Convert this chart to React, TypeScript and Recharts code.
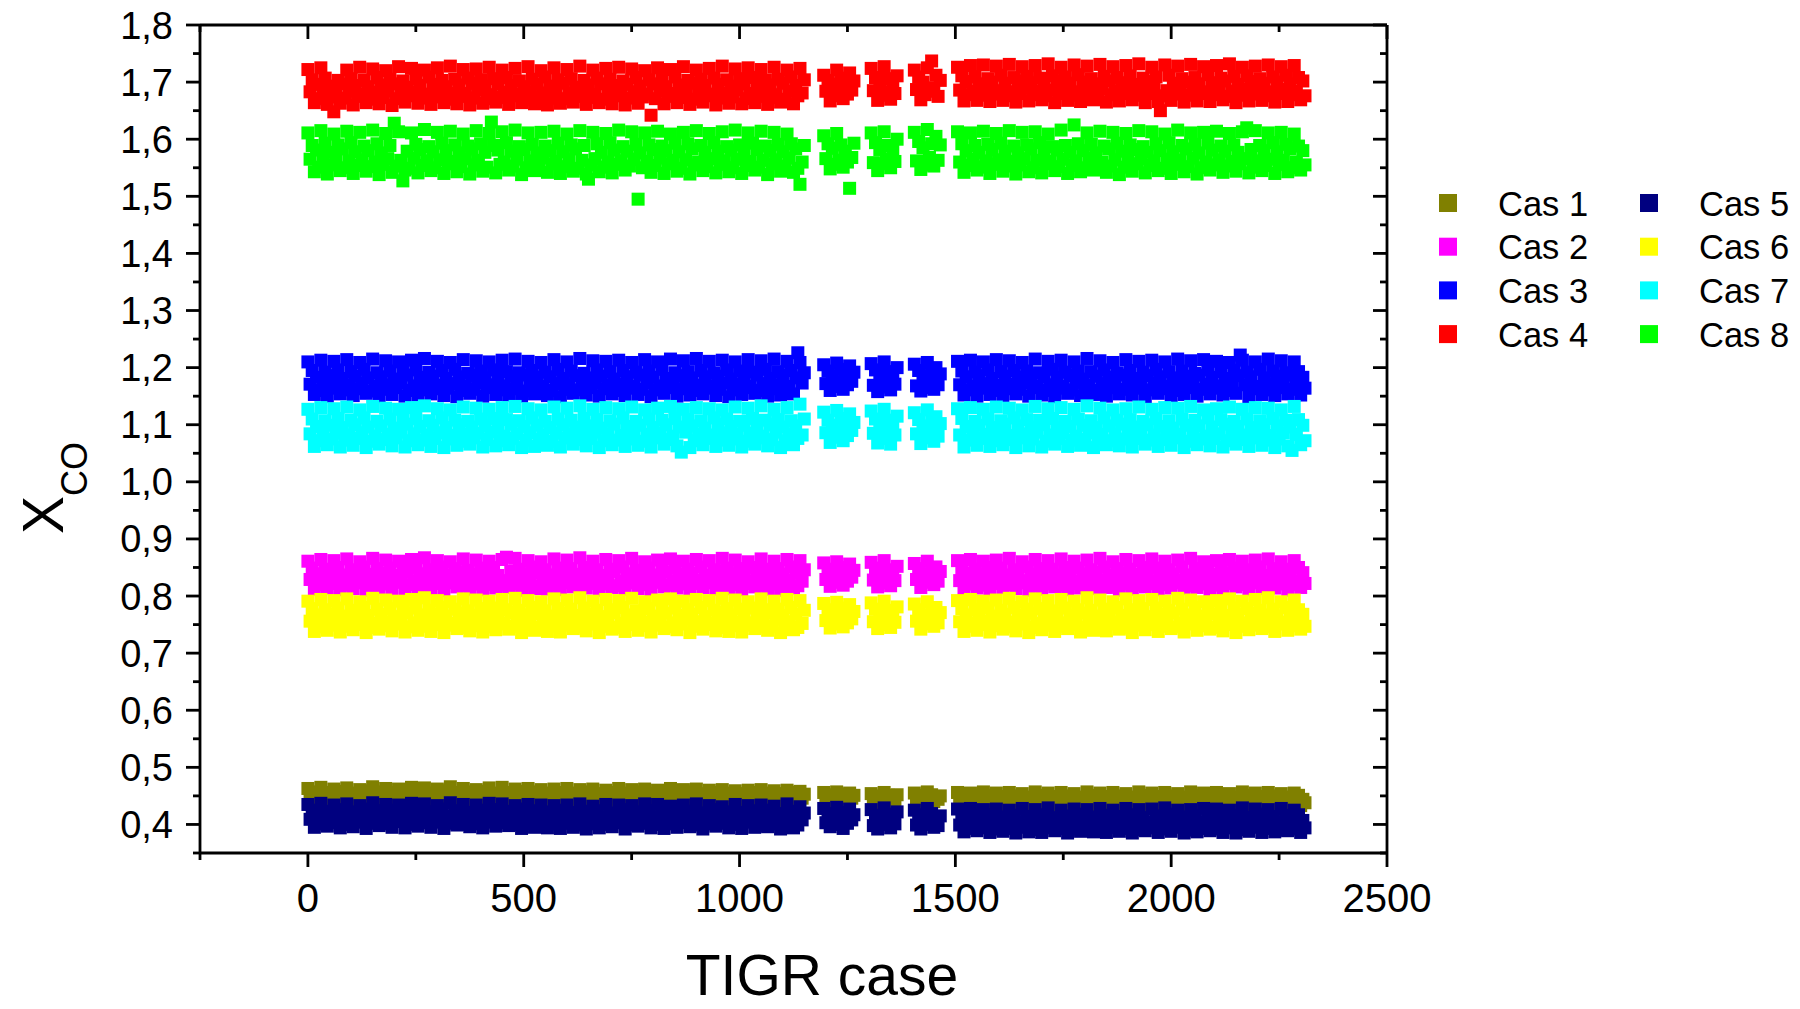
import React from "react";
import { ScatterChart, Scatter, XAxis, YAxis, Legend } from "recharts";

const FONT = "'Liberation Sans', Arial, sans-serif";

// TIGR case indices sampled along the x axis (gaps near 1175, 1285, 1385, 1485)
const cases = [
  0, 5, 10, 15, 20, 25, 30, 35, 40, 45,
  50, 55, 60, 65, 70, 75, 80, 85, 90, 95,
  100, 105, 110, 115, 120, 125, 130, 135, 140, 145,
  150, 155, 160, 165, 170, 175, 180, 185, 190, 195,
  200, 205, 210, 215, 220, 225, 230, 235, 240, 245,
  250, 255, 260, 265, 270, 275, 280, 285, 290, 295,
  300, 305, 310, 315, 320, 325, 330, 335, 340, 345,
  350, 355, 360, 365, 370, 375, 380, 385, 390, 395,
  400, 405, 410, 415, 420, 425, 430, 435, 440, 445,
  450, 455, 460, 465, 470, 475, 480, 485, 490, 495,
  500, 505, 510, 515, 520, 525, 530, 535, 540, 545,
  550, 555, 560, 565, 570, 575, 580, 585, 590, 595,
  600, 605, 610, 615, 620, 625, 630, 635, 640, 645,
  650, 655, 660, 665, 670, 675, 680, 685, 690, 695,
  700, 705, 710, 715, 720, 725, 730, 735, 740, 745,
  750, 755, 760, 765, 770, 775, 780, 785, 790, 795,
  800, 805, 810, 815, 820, 825, 830, 835, 840, 845,
  850, 855, 860, 865, 870, 875, 880, 885, 890, 895,
  900, 905, 910, 915, 920, 925, 930, 935, 940, 945,
  950, 955, 960, 965, 970, 975, 980, 985, 990, 995,
  1000, 1005, 1010, 1015, 1020, 1025, 1030, 1035, 1040, 1045,
  1050, 1055, 1060, 1065, 1070, 1075, 1080, 1085, 1090, 1095,
  1100, 1105, 1110, 1115, 1120, 1125, 1130, 1135, 1140, 1145,
  1150, 1195, 1200, 1205, 1210, 1215, 1220, 1225, 1230, 1235,
  1240, 1245, 1250, 1255, 1260, 1265, 1305, 1310, 1315, 1320,
  1325, 1330, 1335, 1340, 1345, 1350, 1355, 1360, 1365, 1405,
  1410, 1415, 1420, 1425, 1430, 1435, 1440, 1445, 1450, 1455,
  1460, 1465, 1505, 1510, 1515, 1520, 1525, 1530, 1535, 1540,
  1545, 1550, 1555, 1560, 1565, 1570, 1575, 1580, 1585, 1590,
  1595, 1600, 1605, 1610, 1615, 1620, 1625, 1630, 1635, 1640,
  1645, 1650, 1655, 1660, 1665, 1670, 1675, 1680, 1685, 1690,
  1695, 1700, 1705, 1710, 1715, 1720, 1725, 1730, 1735, 1740,
  1745, 1750, 1755, 1760, 1765, 1770, 1775, 1780, 1785, 1790,
  1795, 1800, 1805, 1810, 1815, 1820, 1825, 1830, 1835, 1840,
  1845, 1850, 1855, 1860, 1865, 1870, 1875, 1880, 1885, 1890,
  1895, 1900, 1905, 1910, 1915, 1920, 1925, 1930, 1935, 1940,
  1945, 1950, 1955, 1960, 1965, 1970, 1975, 1980, 1985, 1990,
  1995, 2000, 2005, 2010, 2015, 2020, 2025, 2030, 2035, 2040,
  2045, 2050, 2055, 2060, 2065, 2070, 2075, 2080, 2085, 2090,
  2095, 2100, 2105, 2110, 2115, 2120, 2125, 2130, 2135, 2140,
  2145, 2150, 2155, 2160, 2165, 2170, 2175, 2180, 2185, 2190,
  2195, 2200, 2205, 2210, 2215, 2220, 2225, 2230, 2235, 2240,
  2245, 2250, 2255, 2260, 2265, 2270, 2275, 2280, 2285, 2290,
  2295, 2300, 2305, 2310,
];

const cas1 = [
  .463, .448, .457, .441, .452, .443, .465, .446, .456, .440,
  .454, .445, .462, .449, .458, .439, .451, .444, .464, .447,
  .455, .442, .453, .446, .461, .450, .459, .440, .452, .443,
  .466, .447, .457, .441, .454, .444, .463, .448, .456, .439,
  .451, .445, .462, .450, .458, .440, .453, .443, .465, .446,
  .457, .441, .452, .444, .464, .448, .455, .439, .454, .445,
  .462, .449, .459, .440, .451, .443, .466, .447, .456, .442,
  .453, .444, .463, .448, .457, .441, .452, .445, .461, .450,
  .458, .439, .454, .443, .464, .446, .455, .440, .451, .444,
  .465, .447, .456, .442, .453, .445, .462, .449, .458, .439,
  .452, .443, .463, .448, .457, .440, .454, .444, .461, .446,
  .455, .441, .451, .443, .462, .447, .456, .439, .452, .444,
  .463, .446, .455, .440, .450, .442, .461, .448, .457, .438,
  .451, .443, .462, .447, .454, .439, .452, .444, .460, .446,
  .456, .440, .450, .442, .463, .445, .455, .438, .451, .443,
  .461, .447, .457, .439, .452, .444, .462, .446, .454, .440,
  .450, .442, .460, .448, .456, .438, .451, .443, .463, .445,
  .455, .439, .452, .444, .461, .446, .457, .440, .450, .442,
  .462, .447, .454, .438, .451, .443, .460, .445, .456, .439,
  .452, .444, .461, .446, .455, .440, .450, .442, .459, .447,
  .454, .438, .451, .443, .460, .445, .456, .439, .452, .441,
  .461, .446, .455, .440, .450, .442, .459, .447, .454, .438,
  .451, .443, .460, .445, .456, .439, .452, .441, .458, .446,
  .453, .456, .444, .452, .439, .449, .442, .457, .445, .453,
  .440, .450, .443, .455, .446, .451, .454, .441, .450, .437,
  .447, .440, .456, .444, .451, .438, .448, .442, .452, .455,
  .443, .451, .438, .448, .441, .457, .445, .452, .440, .449,
  .444, .450, .456, .440, .449, .433, .445, .437, .455, .441,
  .450, .434, .446, .438, .457, .442, .451, .433, .444, .436,
  .455, .440, .449, .432, .445, .437, .456, .439, .450, .434,
  .443, .435, .454, .441, .448, .433, .446, .436, .457, .440,
  .451, .432, .444, .438, .455, .439, .449, .434, .445, .437,
  .456, .441, .450, .433, .443, .436, .454, .440, .448, .432,
  .446, .437, .457, .439, .451, .434, .444, .435, .455, .441,
  .449, .433, .445, .438, .456, .440, .450, .432, .443, .436,
  .454, .439, .448, .434, .446, .437, .457, .441, .451, .433,
  .444, .435, .455, .440, .449, .432, .445, .438, .456, .439,
  .450, .434, .443, .436, .454, .441, .448, .433, .446, .437,
  .457, .440, .451, .432, .444, .435, .455, .439, .449, .434,
  .445, .438, .456, .441, .450, .433, .443, .436, .454, .440,
  .448, .432, .446, .437, .457, .439, .451, .434, .444, .435,
  .455, .441, .449, .433, .445, .438, .456, .440, .450, .432,
  .443, .436, .454, .439, .448, .434, .446, .437, .455, .441,
  .451, .433, .444, .438,
];

const cas2 = [
  .861, .829, .849, .812, .839, .820, .864, .827, .847, .814,
  .841, .822, .862, .830, .850, .811, .837, .819, .865, .828,
  .846, .813, .842, .823, .860, .831, .851, .810, .838, .818,
  .866, .826, .848, .815, .840, .821, .863, .829, .849, .812,
  .836, .824, .861, .832, .847, .811, .843, .820, .864, .827,
  .850, .814, .839, .819, .867, .828, .846, .813, .841, .822,
  .862, .831, .851, .810, .837, .823, .860, .826, .848, .816,
  .842, .818, .865, .829, .845, .812, .838, .821, .863, .830,
  .849, .811, .840, .820, .861, .832, .850, .814, .836, .819,
  .864, .827, .868, .815, .843, .822, .866, .828, .847, .810,
  .839, .821, .862, .831, .851, .813, .841, .818, .860, .826,
  .846, .812, .837, .820, .865, .829, .849, .811, .842, .823,
  .863, .830, .848, .816, .838, .819, .867, .827, .850, .814,
  .840, .822, .861, .832, .846, .810, .836, .821, .864, .828,
  .847, .815, .843, .818, .862, .826, .851, .812, .839, .823,
  .866, .831, .845, .813, .841, .820, .860, .829, .849, .811,
  .837, .824, .863, .830, .848, .816, .842, .819, .865, .827,
  .850, .814, .838, .821, .861, .832, .847, .810, .840, .822,
  .864, .828, .851, .815, .836, .823, .862, .826, .846, .812,
  .843, .818, .866, .831, .849, .813, .839, .820, .863, .829,
  .848, .811, .841, .822, .860, .827, .850, .816, .837, .819,
  .865, .830, .847, .812, .842, .821, .861, .832, .848, .810,
  .838, .823, .864, .828, .851, .814, .840, .818, .862, .826,
  .846, .858, .829, .847, .817, .841, .824, .860, .831, .850,
  .819, .843, .826, .856, .833, .845, .859, .828, .849, .816,
  .840, .823, .862, .830, .846, .818, .842, .827, .852, .857,
  .829, .848, .815, .839, .824, .861, .831, .845, .820, .851,
  .826, .843, .862, .827, .848, .812, .840, .821, .864, .829,
  .847, .814, .839, .819, .861, .830, .850, .811, .842, .822,
  .863, .828, .849, .815, .837, .820, .866, .831, .846, .813,
  .841, .823, .860, .827, .851, .810, .838, .818, .864, .832,
  .848, .812, .843, .821, .862, .829, .847, .816, .836, .819,
  .865, .830, .850, .811, .840, .822, .861, .826, .849, .814,
  .839, .820, .863, .831, .846, .813, .842, .823, .866, .828,
  .851, .815, .837, .818, .860, .827, .848, .810, .841, .821,
  .864, .832, .847, .812, .838, .819, .862, .829, .850, .816,
  .843, .822, .865, .826, .849, .811, .840, .820, .861, .830,
  .846, .814, .839, .823, .863, .828, .851, .813, .837, .818,
  .866, .831, .848, .815, .842, .821, .860, .827, .847, .810,
  .838, .819, .862, .832, .850, .812, .841, .822, .864, .829,
  .849, .816, .840, .820, .861, .826, .846, .811, .843, .823,
  .863, .830, .851, .813, .836, .818, .865, .828, .848, .814,
  .842, .821, .860, .831, .847, .810, .839, .820, .862, .827,
  .850, .815, .841, .822,
];

const cas3 = [
  1.210, 1.171, 1.195, 1.153, 1.183, 1.160, 1.213, 1.168, 1.192, 1.150,
  1.186, 1.164, 1.211, 1.172, 1.196, 1.154, 1.181, 1.161, 1.214, 1.169,
  1.193, 1.151, 1.185, 1.163, 1.209, 1.173, 1.197, 1.155, 1.182, 1.159,
  1.215, 1.167, 1.191, 1.149, 1.184, 1.162, 1.212, 1.170, 1.194, 1.153,
  1.180, 1.165, 1.210, 1.174, 1.193, 1.150, 1.187, 1.160, 1.213, 1.168,
  1.196, 1.152, 1.183, 1.161, 1.216, 1.171, 1.192, 1.154, 1.185, 1.163,
  1.211, 1.169, 1.195, 1.151, 1.181, 1.164, 1.209, 1.172, 1.197, 1.149,
  1.184, 1.160, 1.214, 1.167, 1.190, 1.155, 1.186, 1.162, 1.212, 1.173,
  1.194, 1.150, 1.182, 1.165, 1.210, 1.170, 1.196, 1.153, 1.180, 1.161,
  1.213, 1.168, 1.193, 1.152, 1.185, 1.163, 1.215, 1.171, 1.191, 1.150,
  1.187, 1.159, 1.211, 1.174, 1.195, 1.154, 1.183, 1.164, 1.209, 1.167,
  1.192, 1.151, 1.184, 1.160, 1.214, 1.172, 1.197, 1.149, 1.181, 1.162,
  1.210, 1.170, 1.194, 1.155, 1.186, 1.161, 1.216, 1.168, 1.190, 1.152,
  1.182, 1.165, 1.212, 1.173, 1.196, 1.150, 1.185, 1.163, 1.211, 1.169,
  1.193, 1.154, 1.180, 1.160, 1.213, 1.171, 1.195, 1.151, 1.184, 1.164,
  1.209, 1.167, 1.192, 1.153, 1.187, 1.162, 1.214, 1.174, 1.194, 1.149,
  1.183, 1.161, 1.210, 1.168, 1.197, 1.155, 1.181, 1.165, 1.215, 1.170,
  1.191, 1.150, 1.186, 1.163, 1.212, 1.172, 1.193, 1.152, 1.182, 1.160,
  1.216, 1.169, 1.195, 1.154, 1.184, 1.164, 1.211, 1.167, 1.190, 1.151,
  1.185, 1.162, 1.213, 1.173, 1.196, 1.149, 1.180, 1.161, 1.210, 1.171,
  1.194, 1.153, 1.183, 1.165, 1.214, 1.168, 1.192, 1.155, 1.187, 1.160,
  1.212, 1.172, 1.197, 1.150, 1.181, 1.163, 1.215, 1.170, 1.193, 1.152,
  1.186, 1.164, 1.211, 1.167, 1.195, 1.154, 1.182, 1.226, 1.209, 1.173,
  1.191, 1.205, 1.172, 1.194, 1.160, 1.186, 1.167, 1.208, 1.175, 1.197,
  1.162, 1.188, 1.170, 1.203, 1.176, 1.192, 1.207, 1.169, 1.196, 1.158,
  1.185, 1.166, 1.210, 1.174, 1.193, 1.161, 1.187, 1.171, 1.200, 1.206,
  1.168, 1.195, 1.159, 1.186, 1.165, 1.209, 1.175, 1.192, 1.162, 1.200,
  1.170, 1.189, 1.211, 1.170, 1.194, 1.152, 1.184, 1.161, 1.213, 1.168,
  1.192, 1.150, 1.186, 1.164, 1.210, 1.172, 1.196, 1.153, 1.181, 1.160,
  1.214, 1.169, 1.193, 1.151, 1.185, 1.163, 1.212, 1.171, 1.195, 1.154,
  1.183, 1.162, 1.209, 1.173, 1.194, 1.150, 1.187, 1.165, 1.215, 1.168,
  1.191, 1.152, 1.184, 1.160, 1.211, 1.170, 1.197, 1.149, 1.182, 1.164,
  1.213, 1.167, 1.192, 1.155, 1.186, 1.161, 1.210, 1.174, 1.194, 1.151,
  1.180, 1.163, 1.216, 1.169, 1.193, 1.153, 1.185, 1.160, 1.212, 1.172,
  1.196, 1.150, 1.183, 1.165, 1.209, 1.171, 1.191, 1.154, 1.187, 1.162,
  1.214, 1.168, 1.195, 1.152, 1.181, 1.164, 1.211, 1.170, 1.192, 1.149,
  1.186, 1.161, 1.213, 1.173, 1.197, 1.155, 1.184, 1.163, 1.210, 1.167,
  1.193, 1.151, 1.182, 1.160, 1.215, 1.172, 1.194, 1.153, 1.185, 1.165,
  1.212, 1.169, 1.190, 1.150, 1.187, 1.162, 1.214, 1.171, 1.196, 1.154,
  1.183, 1.164, 1.211, 1.168, 1.193, 1.152, 1.181, 1.160, 1.209, 1.173,
  1.195, 1.155, 1.186, 1.222, 1.213, 1.170, 1.192, 1.149, 1.184, 1.163,
  1.210, 1.167, 1.197, 1.153, 1.182, 1.161, 1.215, 1.172, 1.194, 1.151,
  1.185, 1.165, 1.212, 1.169, 1.191, 1.154, 1.187, 1.162, 1.210, 1.171,
  1.193, 1.152, 1.183, 1.164,
];

const cas4 = [
  1.722, 1.683, 1.704, 1.664, 1.696, 1.671, 1.725, 1.680, 1.707, 1.661,
  1.693, 1.674, 1.648, 1.682, 1.703, 1.663, 1.697, 1.672, 1.721, 1.684,
  1.706, 1.660, 1.694, 1.675, 1.726, 1.679, 1.703, 1.664, 1.692, 1.670,
  1.723, 1.682, 1.708, 1.662, 1.695, 1.673, 1.720, 1.685, 1.705, 1.659,
  1.697, 1.671, 1.727, 1.680, 1.702, 1.665, 1.691, 1.676, 1.724, 1.683,
  1.706, 1.663, 1.694, 1.672, 1.721, 1.679, 1.709, 1.661, 1.696, 1.674,
  1.725, 1.684, 1.703, 1.664, 1.692, 1.670, 1.728, 1.681, 1.705, 1.662,
  1.695, 1.675, 1.722, 1.680, 1.707, 1.660, 1.698, 1.672, 1.723, 1.686,
  1.704, 1.663, 1.693, 1.671, 1.726, 1.678, 1.706, 1.665, 1.697, 1.673,
  1.721, 1.682, 1.708, 1.661, 1.694, 1.676, 1.724, 1.679, 1.702, 1.664,
  1.692, 1.670, 1.727, 1.683, 1.705, 1.662, 1.696, 1.674, 1.720, 1.681,
  1.709, 1.660, 1.693, 1.672, 1.725, 1.685, 1.704, 1.663, 1.698, 1.671,
  1.722, 1.680, 1.706, 1.665, 1.691, 1.675, 1.728, 1.682, 1.703, 1.661,
  1.695, 1.673, 1.721, 1.678, 1.707, 1.664, 1.697, 1.670, 1.724, 1.684,
  1.705, 1.662, 1.694, 1.676, 1.726, 1.681, 1.702, 1.660, 1.696, 1.672,
  1.723, 1.683, 1.708, 1.663, 1.693, 1.674, 1.720, 1.679, 1.704, 1.642,
  1.697, 1.671, 1.725, 1.685, 1.706, 1.662, 1.692, 1.675, 1.722, 1.680,
  1.709, 1.664, 1.695, 1.673, 1.727, 1.682, 1.703, 1.661, 1.698, 1.670,
  1.721, 1.684, 1.705, 1.665, 1.694, 1.676, 1.724, 1.679, 1.707, 1.660,
  1.696, 1.672, 1.728, 1.681, 1.704, 1.663, 1.693, 1.674, 1.723, 1.686,
  1.706, 1.662, 1.697, 1.671, 1.725, 1.680, 1.708, 1.664, 1.692, 1.675,
  1.722, 1.683, 1.703, 1.661, 1.695, 1.673, 1.726, 1.678, 1.705, 1.665,
  1.698, 1.670, 1.721, 1.684, 1.709, 1.662, 1.694, 1.676, 1.724, 1.681,
  1.704, 1.712, 1.684, 1.703, 1.667, 1.697, 1.676, 1.721, 1.688, 1.707,
  1.671, 1.699, 1.679, 1.716, 1.686, 1.702, 1.724, 1.685, 1.708, 1.668,
  1.698, 1.677, 1.727, 1.683, 1.706, 1.670, 1.695, 1.680, 1.711, 1.721,
  1.687, 1.709, 1.669, 1.700, 1.678, 1.725, 1.690, 1.737, 1.684, 1.712,
  1.675, 1.703, 1.726, 1.686, 1.711, 1.667, 1.701, 1.678, 1.729, 1.684,
  1.709, 1.668, 1.697, 1.677, 1.730, 1.688, 1.706, 1.666, 1.700, 1.679,
  1.728, 1.685, 1.712, 1.668, 1.698, 1.676, 1.731, 1.683, 1.708, 1.665,
  1.702, 1.680, 1.727, 1.689, 1.710, 1.667, 1.699, 1.678, 1.729, 1.684,
  1.707, 1.669, 1.696, 1.676, 1.732, 1.686, 1.711, 1.664, 1.701, 1.680,
  1.726, 1.687, 1.709, 1.668, 1.698, 1.677, 1.730, 1.683, 1.713, 1.666,
  1.700, 1.679, 1.728, 1.685, 1.706, 1.669, 1.697, 1.675, 1.731, 1.688,
  1.710, 1.665, 1.702, 1.678, 1.727, 1.684, 1.708, 1.667, 1.699, 1.680,
  1.729, 1.686, 1.711, 1.669, 1.696, 1.677, 1.732, 1.683, 1.707, 1.664,
  1.701, 1.680, 1.726, 1.688, 1.709, 1.666, 1.650, 1.676, 1.730, 1.685,
  1.712, 1.668, 1.698, 1.679, 1.728, 1.684, 1.706, 1.665, 1.700, 1.677,
  1.731, 1.687, 1.708, 1.667, 1.697, 1.680, 1.727, 1.683, 1.713, 1.666,
  1.699, 1.678, 1.729, 1.686, 1.707, 1.669, 1.702, 1.675, 1.732, 1.684,
  1.710, 1.664, 1.696, 1.677, 1.726, 1.688, 1.711, 1.667, 1.701, 1.679,
  1.728, 1.685, 1.706, 1.668, 1.698, 1.676, 1.730, 1.683, 1.709, 1.665,
  1.700, 1.680, 1.727, 1.687, 1.712, 1.666, 1.697, 1.678, 1.729, 1.684,
  1.708, 1.669, 1.702, 1.676,
];

const cas5 = [
  .435, .409, .425, .395, .416, .401, .437, .407, .423, .397,
  .418, .403, .434, .410, .426, .394, .415, .400, .436, .408,
  .422, .396, .419, .404, .433, .411, .427, .393, .417, .402,
  .438, .406, .424, .398, .416, .401, .435, .409, .425, .395,
  .414, .405, .434, .412, .423, .394, .420, .400, .437, .407,
  .426, .397, .417, .403, .436, .408, .422, .395, .418, .404,
  .433, .410, .427, .393, .415, .402, .438, .406, .424, .399,
  .419, .400, .435, .409, .421, .396, .416, .401, .434, .411,
  .425, .394, .418, .404, .437, .407, .426, .397, .414, .403,
  .436, .408, .423, .398, .420, .400, .433, .410, .427, .393,
  .417, .402, .435, .409, .424, .395, .419, .405, .434, .406,
  .422, .394, .415, .401, .433, .407, .425, .393, .417, .402,
  .434, .408, .421, .395, .414, .399, .436, .405, .423, .392,
  .416, .401, .432, .410, .424, .394, .413, .400, .435, .406,
  .420, .396, .418, .403, .434, .409, .426, .392, .415, .399,
  .433, .407, .422, .397, .417, .402, .436, .404, .424, .394,
  .413, .400, .435, .408, .421, .393, .418, .401, .432, .410,
  .425, .395, .414, .403, .434, .406, .423, .396, .416, .399,
  .436, .409, .420, .392, .415, .401, .433, .407, .426, .397,
  .417, .402, .431, .408, .422, .394, .414, .400, .435, .405,
  .421, .393, .416, .404, .433, .409, .424, .395, .418, .398,
  .434, .406, .425, .396, .413, .401, .432, .410, .419, .392,
  .415, .403, .436, .407, .423, .394, .417, .399, .431, .408,
  .420, .428, .403, .419, .396, .414, .400, .430, .406, .421,
  .393, .412, .402, .427, .408, .417, .426, .398, .416, .392,
  .411, .400, .429, .404, .418, .394, .410, .401, .422, .425,
  .399, .417, .392, .409, .400, .428, .405, .419, .395, .413,
  .398, .415, .427, .399, .414, .387, .408, .393, .428, .400,
  .415, .389, .409, .394, .426, .401, .417, .386, .406, .392,
  .427, .398, .413, .388, .408, .393, .425, .400, .416, .385,
  .405, .395, .428, .402, .414, .387, .410, .391, .426, .399,
  .417, .386, .407, .394, .429, .397, .412, .389, .404, .393,
  .425, .401, .415, .385, .408, .392, .427, .398, .418, .388,
  .406, .394, .426, .400, .413, .387, .409, .390, .428, .402,
  .416, .386, .405, .395, .425, .399, .414, .388, .407, .393,
  .428, .397, .417, .385, .410, .391, .426, .401, .412, .389,
  .404, .394, .427, .398, .415, .386, .408, .392, .429, .400,
  .418, .388, .406, .395, .425, .402, .413, .385, .409, .390,
  .426, .399, .416, .387, .405, .393, .428, .397, .414, .389,
  .407, .392, .427, .401, .417, .386, .410, .394, .425, .398,
  .415, .385, .408, .391, .429, .400, .412, .388, .406, .395,
  .427, .398, .418, .386, .409, .393, .426, .402, .414, .387,
  .405, .390, .428, .399, .416, .389, .411, .392, .425, .401,
  .417, .386, .407, .394,
];

const cas6 = [
  .791, .756, .778, .738, .767, .746, .794, .753, .776, .740,
  .769, .749, .792, .757, .779, .737, .765, .747, .795, .754,
  .775, .741, .770, .750, .790, .758, .780, .736, .766, .745,
  .796, .752, .777, .742, .768, .748, .793, .755, .778, .739,
  .764, .751, .791, .759, .776, .737, .771, .746, .794, .753,
  .779, .740, .767, .747, .797, .756, .775, .738, .769, .750,
  .792, .758, .780, .736, .765, .749, .790, .752, .777, .743,
  .770, .745, .795, .755, .774, .739, .766, .748, .793, .757,
  .778, .737, .768, .746, .791, .759, .779, .741, .764, .751,
  .794, .753, .776, .742, .771, .747, .796, .754, .775, .736,
  .767, .750, .792, .758, .780, .740, .769, .745, .790, .752,
  .774, .738, .765, .748, .795, .756, .778, .737, .770, .749,
  .793, .757, .777, .743, .766, .746, .797, .753, .779, .739,
  .768, .751, .791, .759, .775, .736, .764, .747, .794, .755,
  .776, .742, .771, .745, .792, .752, .780, .738, .767, .750,
  .796, .758, .774, .740, .769, .748, .790, .754, .778, .737,
  .765, .749, .793, .756, .777, .743, .770, .746, .795, .753,
  .779, .741, .766, .751, .791, .759, .776, .736, .768, .747,
  .794, .755, .780, .742, .764, .750, .792, .752, .775, .739,
  .771, .745, .796, .758, .778, .738, .767, .748, .793, .754,
  .777, .737, .769, .749, .790, .753, .779, .743, .765, .746,
  .795, .757, .776, .740, .770, .747, .791, .759, .777, .736,
  .766, .750, .794, .755, .780, .741, .768, .745, .792, .752,
  .775, .787, .757, .776, .744, .769, .751, .789, .759, .779,
  .746, .771, .753, .785, .760, .773, .788, .755, .777, .743,
  .768, .750, .791, .758, .775, .745, .770, .754, .781, .786,
  .756, .776, .742, .767, .751, .790, .759, .773, .747, .780,
  .753, .771, .792, .755, .778, .738, .767, .747, .794, .753,
  .776, .740, .769, .750, .791, .756, .779, .737, .765, .748,
  .793, .758, .775, .742, .768, .746, .796, .754, .780, .739,
  .766, .751, .790, .757, .777, .736, .770, .745, .795, .752,
  .778, .741, .764, .749, .792, .759, .774, .738, .769, .747,
  .794, .753, .779, .743, .767, .750, .791, .756, .776, .737,
  .770, .746, .797, .755, .775, .740, .765, .748, .793, .758,
  .777, .739, .768, .751, .790, .754, .780, .742, .766, .745,
  .795, .757, .776, .736, .771, .749, .792, .752, .778, .741,
  .764, .750, .794, .758, .779, .738, .768, .747, .791, .755,
  .775, .743, .770, .746, .796, .753, .777, .737, .767, .751,
  .793, .759, .780, .740, .765, .748, .790, .754, .776, .742,
  .769, .745, .792, .756, .774, .739, .766, .750, .795, .757,
  .779, .736, .768, .747, .791, .753, .778, .741, .770, .749,
  .794, .755, .775, .743, .767, .746, .797, .758, .777, .738,
  .765, .751, .790, .754, .780, .740, .769, .748, .793, .756,
  .776, .742, .768, .747,
];

const cas7 = [
  1.127, 1.084, 1.110, 1.062, 1.097, 1.072, 1.130, 1.081, 1.107, 1.065,
  1.099, 1.075, 1.128, 1.085, 1.111, 1.061, 1.095, 1.073, 1.131, 1.082,
  1.108, 1.064, 1.100, 1.076, 1.126, 1.086, 1.112, 1.060, 1.096, 1.071,
  1.132, 1.080, 1.106, 1.066, 1.098, 1.074, 1.129, 1.083, 1.110, 1.063,
  1.094, 1.077, 1.127, 1.087, 1.109, 1.061, 1.101, 1.072, 1.130, 1.084,
  1.111, 1.065, 1.097, 1.073, 1.133, 1.082, 1.107, 1.062, 1.099, 1.076,
  1.128, 1.086, 1.112, 1.060, 1.095, 1.075, 1.126, 1.081, 1.108, 1.064,
  1.100, 1.071, 1.131, 1.083, 1.106, 1.066, 1.096, 1.077, 1.129, 1.085,
  1.110, 1.061, 1.098, 1.074, 1.127, 1.087, 1.111, 1.063, 1.094, 1.072,
  1.130, 1.080, 1.109, 1.065, 1.101, 1.076, 1.132, 1.084, 1.107, 1.060,
  1.097, 1.073, 1.128, 1.086, 1.112, 1.062, 1.099, 1.075, 1.126, 1.082,
  1.106, 1.064, 1.095, 1.071, 1.131, 1.085, 1.110, 1.061, 1.100, 1.077,
  1.129, 1.083, 1.108, 1.066, 1.096, 1.074, 1.133, 1.080, 1.111, 1.063,
  1.098, 1.076, 1.127, 1.087, 1.109, 1.060, 1.094, 1.072, 1.130, 1.084,
  1.107, 1.065, 1.101, 1.073, 1.128, 1.081, 1.112, 1.062, 1.097, 1.075,
  1.131, 1.086, 1.106, 1.064, 1.099, 1.071, 1.126, 1.083, 1.110, 1.061,
  1.095, 1.077, 1.129, 1.085, 1.108, 1.066, 1.100, 1.074, 1.132, 1.080,
  1.111, 1.063, 1.096, 1.052, 1.127, 1.087, 1.109, 1.060, 1.098, 1.072,
  1.130, 1.084, 1.107, 1.065, 1.094, 1.076, 1.128, 1.082, 1.112, 1.062,
  1.101, 1.073, 1.126, 1.086, 1.110, 1.064, 1.097, 1.075, 1.131, 1.083,
  1.106, 1.061, 1.099, 1.071, 1.129, 1.085, 1.111, 1.066, 1.095, 1.077,
  1.133, 1.080, 1.108, 1.063, 1.100, 1.074, 1.127, 1.087, 1.109, 1.060,
  1.096, 1.072, 1.130, 1.084, 1.107, 1.065, 1.098, 1.076, 1.136, 1.082,
  1.110, 1.122, 1.086, 1.108, 1.069, 1.099, 1.078, 1.125, 1.088, 1.111,
  1.072, 1.101, 1.081, 1.119, 1.090, 1.104, 1.124, 1.085, 1.110, 1.068,
  1.097, 1.076, 1.127, 1.087, 1.108, 1.066, 1.100, 1.082, 1.115, 1.121,
  1.084, 1.109, 1.067, 1.098, 1.077, 1.126, 1.089, 1.106, 1.071, 1.114,
  1.080, 1.102, 1.128, 1.082, 1.111, 1.061, 1.097, 1.073, 1.130, 1.085,
  1.106, 1.064, 1.099, 1.076, 1.127, 1.083, 1.110, 1.062, 1.095, 1.072,
  1.131, 1.086, 1.107, 1.065, 1.101, 1.074, 1.129, 1.081, 1.112, 1.060,
  1.098, 1.077, 1.126, 1.084, 1.109, 1.063, 1.096, 1.075, 1.132, 1.087,
  1.108, 1.061, 1.100, 1.071, 1.128, 1.082, 1.111, 1.066, 1.094, 1.076,
  1.130, 1.085, 1.106, 1.062, 1.097, 1.073, 1.127, 1.080, 1.110, 1.064,
  1.099, 1.074, 1.133, 1.086, 1.107, 1.060, 1.095, 1.077, 1.129, 1.083,
  1.112, 1.065, 1.098, 1.072, 1.126, 1.084, 1.108, 1.063, 1.101, 1.075,
  1.128, 1.081, 1.109, 1.061, 1.096, 1.076, 1.131, 1.087, 1.106, 1.066,
  1.100, 1.073, 1.127, 1.082, 1.111, 1.062, 1.097, 1.074, 1.130, 1.085,
  1.107, 1.064, 1.094, 1.077, 1.129, 1.083, 1.110, 1.060, 1.099, 1.071,
  1.132, 1.086, 1.108, 1.065, 1.098, 1.075, 1.126, 1.080, 1.112, 1.063,
  1.096, 1.076, 1.128, 1.084, 1.109, 1.061, 1.101, 1.072, 1.131, 1.087,
  1.106, 1.066, 1.097, 1.074, 1.127, 1.082, 1.110, 1.062, 1.095, 1.077,
  1.130, 1.085, 1.107, 1.064, 1.100, 1.073, 1.129, 1.081, 1.111, 1.060,
  1.098, 1.075, 1.126, 1.086, 1.108, 1.063, 1.096, 1.055, 1.132, 1.083,
  1.109, 1.065, 1.099, 1.072,
];

const cas8 = [
  1.611, 1.565, 1.589, 1.543, 1.581, 1.551, 1.615, 1.561, 1.593, 1.539,
  1.577, 1.555, 1.609, 1.567, 1.590, 1.545, 1.583, 1.550, 1.614, 1.562,
  1.594, 1.540, 1.578, 1.554, 1.612, 1.564, 1.588, 1.544, 1.580, 1.552,
  1.616, 1.560, 1.592, 1.538, 1.576, 1.556, 1.610, 1.566, 1.589, 1.542,
  1.628, 1.553, 1.613, 1.563, 1.527, 1.546, 1.579, 1.549, 1.611, 1.567,
  1.591, 1.541, 1.582, 1.554, 1.617, 1.562, 1.587, 1.545, 1.578, 1.550,
  1.612, 1.564, 1.593, 1.540, 1.580, 1.557, 1.614, 1.561, 1.590, 1.543,
  1.576, 1.552, 1.609, 1.566, 1.588, 1.539, 1.583, 1.555, 1.615, 1.563,
  1.592, 1.544, 1.577, 1.551, 1.610, 1.630, 1.589, 1.541, 1.581, 1.556,
  1.613, 1.560, 1.594, 1.546, 1.579, 1.553, 1.616, 1.565, 1.587, 1.538,
  1.582, 1.550, 1.611, 1.562, 1.591, 1.545, 1.576, 1.554, 1.612, 1.567,
  1.588, 1.542, 1.580, 1.557, 1.614, 1.561, 1.593, 1.540, 1.578, 1.552,
  1.609, 1.564, 1.590, 1.544, 1.583, 1.549, 1.615, 1.563, 1.589, 1.539,
  1.530, 1.555, 1.612, 1.566, 1.592, 1.543, 1.577, 1.551, 1.610, 1.560,
  1.594, 1.541, 1.581, 1.556, 1.616, 1.562, 1.587, 1.546, 1.579, 1.553,
  1.613, 1.565, 1.591, 1.495, 1.576, 1.550, 1.611, 1.561, 1.590, 1.542,
  1.582, 1.554, 1.614, 1.567, 1.588, 1.540, 1.580, 1.557, 1.609, 1.563,
  1.593, 1.544, 1.578, 1.549, 1.612, 1.564, 1.592, 1.539, 1.583, 1.555,
  1.615, 1.560, 1.589, 1.545, 1.577, 1.552, 1.610, 1.566, 1.594, 1.541,
  1.579, 1.556, 1.613, 1.562, 1.587, 1.543, 1.581, 1.550, 1.616, 1.565,
  1.590, 1.540, 1.576, 1.554, 1.611, 1.561, 1.593, 1.546, 1.582, 1.551,
  1.614, 1.563, 1.588, 1.538, 1.580, 1.557, 1.612, 1.564, 1.591, 1.544,
  1.578, 1.553, 1.609, 1.567, 1.592, 1.542, 1.583, 1.549, 1.521, 1.560,
  1.589, 1.606, 1.566, 1.592, 1.548, 1.584, 1.556, 1.610, 1.563, 1.590,
  1.551, 1.579, 1.560, 1.514, 1.568, 1.593, 1.611, 1.559, 1.594, 1.545,
  1.582, 1.557, 1.613, 1.565, 1.589, 1.550, 1.580, 1.561, 1.600, 1.612,
  1.562, 1.596, 1.547, 1.585, 1.555, 1.617, 1.568, 1.592, 1.553, 1.605,
  1.563, 1.590, 1.613, 1.560, 1.592, 1.542, 1.580, 1.554, 1.611, 1.565,
  1.589, 1.546, 1.577, 1.551, 1.614, 1.562, 1.591, 1.540, 1.582, 1.556,
  1.610, 1.564, 1.593, 1.544, 1.579, 1.553, 1.615, 1.561, 1.588, 1.539,
  1.576, 1.555, 1.612, 1.566, 1.590, 1.543, 1.583, 1.550, 1.613, 1.563,
  1.594, 1.541, 1.578, 1.557, 1.609, 1.561, 1.587, 1.545, 1.581, 1.552,
  1.616, 1.565, 1.589, 1.540, 1.577, 1.554, 1.625, 1.562, 1.592, 1.543,
  1.580, 1.550, 1.611, 1.567, 1.591, 1.546, 1.576, 1.556, 1.614, 1.560,
  1.588, 1.542, 1.583, 1.553, 1.612, 1.564, 1.593, 1.538, 1.579, 1.551,
  1.610, 1.561, 1.590, 1.544, 1.582, 1.557, 1.615, 1.566, 1.587, 1.541,
  1.577, 1.554, 1.613, 1.562, 1.592, 1.545, 1.580, 1.549, 1.609, 1.565,
  1.594, 1.540, 1.578, 1.556, 1.616, 1.563, 1.589, 1.543, 1.583, 1.552,
  1.611, 1.567, 1.591, 1.539, 1.576, 1.550, 1.612, 1.560, 1.593, 1.546,
  1.581, 1.555, 1.614, 1.564, 1.588, 1.542, 1.579, 1.553, 1.610, 1.561,
  1.590, 1.544, 1.577, 1.557, 1.613, 1.566, 1.620, 1.541, 1.582, 1.551,
  1.615, 1.562, 1.589, 1.545, 1.580, 1.554, 1.611, 1.565, 1.594, 1.540,
  1.578, 1.556, 1.612, 1.563, 1.591, 1.543, 1.583, 1.550, 1.609, 1.560,
  1.588, 1.546, 1.580, 1.555,
];

const seriesNames = ["Cas 1", "Cas 2", "Cas 3", "Cas 4", "Cas 5", "Cas 6", "Cas 7", "Cas 8"];
const seriesColors = ["#808000", "#ff00ff", "#0000ff", "#ff0000", "#000080", "#ffff00", "#00ffff", "#00ff00"];
const seriesValues = [cas1, cas2, cas3, cas4, cas5, cas6, cas7, cas8];

const xMajorTicks = [0, 500, 1000, 1500, 2000, 2500];
const xMinorTicks = [-250, 250, 750, 1250, 1750, 2250];
const yMajorTicks = [0.4, 0.5, 0.6, 0.7, 0.8, 0.9, 1.0, 1.1, 1.2, 1.3, 1.4, 1.5, 1.6, 1.7, 1.8];
const yMinorTicks = [0.35, 0.45, 0.55, 0.65, 0.75, 0.85, 0.95, 1.05, 1.15, 1.25, 1.35, 1.45, 1.55, 1.65, 1.75];

const xTicks = [...xMinorTicks, ...xMajorTicks].sort((a, b) => a - b);
const yTicks = [...yMinorTicks, ...yMajorTicks].sort((a, b) => a - b);

const X_DOMAIN: [number, number] = [-250, 2500];
const Y_DOMAIN: [number, number] = [0.35, 1.8];

const MAJOR = 14;
const MINOR = 7;
const SW = 2.8;
const MARK = 13;

const isXMajor = (v: number) => xMajorTicks.includes(v);
const isYMajor = (v: number) => Math.abs(v * 10 - Math.round(v * 10)) < 1e-6;
const fmtY = (v: number) => v.toFixed(1).replace(".", ",");

const BottomTick = (props: any) => {
  const { x, y, payload } = props;
  const v = payload.value;
  const major = isXMajor(v);
  return (
    <g>
      <line x1={x} x2={x} y1={y} y2={y + (major ? MAJOR : MINOR)} stroke="#000" strokeWidth={SW} />
      {major && (
        <text x={x} y={y + 59} textAnchor="middle" fontSize={40} fontFamily={FONT} fill="#000">
          {String(v)}
        </text>
      )}
    </g>
  );
};

const TopTick = (props: any) => {
  const { x, y, payload } = props;
  const major = isXMajor(payload.value);
  return <line x1={x} x2={x} y1={y} y2={y + (major ? MAJOR : MINOR)} stroke="#000" strokeWidth={SW} />;
};

const LeftTick = (props: any) => {
  const { x, y, payload } = props;
  const v = payload.value;
  const major = isYMajor(v);
  return (
    <g>
      <line x1={x - (major ? MAJOR : MINOR)} x2={x} y1={y} y2={y} stroke="#000" strokeWidth={SW} />
      {major && (
        <text x={x - 27} y={y + 13.5} textAnchor="end" fontSize={38} fontFamily={FONT} fill="#000">
          {fmtY(v)}
        </text>
      )}
    </g>
  );
};

const RightTick = (props: any) => {
  const { x, y, payload } = props;
  const major = isYMajor(payload.value);
  return <line x1={x - (major ? MAJOR : MINOR)} x2={x} y1={y} y2={y} stroke="#000" strokeWidth={SW} />;
};

const makeSquare = (color: string) => (props: any) => {
  const { cx, cy } = props;
  if (cx == null || cy == null || Number.isNaN(cy)) return <g />;
  return <rect x={cx - MARK / 2} y={cy - MARK / 2} width={MARK} height={MARK} fill={color} />;
};

const LegendBox = () => {
  const rowGap = 43.7;
  return (
    <svg width={380} height={180} style={{ display: "block" }}>
      {seriesNames.map((name, i) => {
        const col = i < 4 ? 0 : 1;
        const row = i % 4;
        const cy = 23 + row * rowGap;
        const sx = col === 0 ? 19 : 220;
        const tx = col === 0 ? 78 : 279;
        return (
          <g key={name}>
            <rect x={sx} y={cy - 9} width={18} height={18} fill={seriesColors[i]} />
            <text x={tx} y={cy + 12.5} fontSize={34.5} fontFamily={FONT} fill="#000">
              {name}
            </text>
          </g>
        );
      })}
    </svg>
  );
};

export default function App() {
  const datasets = seriesValues.map((vals) =>
    cases
      .map((c, i) => ({ x: c, y: vals[i] }))
      .filter((p) => typeof p.y === "number")
  );
  const axisLine = { stroke: "#000", strokeWidth: SW };
  return (
    <div style={{ position: "absolute", left: 0, top: 0, width: 1800, height: 1009, background: "#fff" }}>
      <ScatterChart
        width={1800}
        height={1009}
        margin={{ top: 15, right: 403, bottom: 96, left: 100 }}
      >
        <XAxis
          xAxisId="b"
          orientation="bottom"
          dataKey="x"
          type="number"
          domain={X_DOMAIN}
          allowDataOverflow
          ticks={xTicks}
          interval={0}
          height={60}
          tickSize={0}
          tickMargin={0}
          tickLine={false}
          axisLine={axisLine}
          tick={BottomTick}
        />
        <XAxis
          xAxisId="t"
          orientation="top"
          dataKey="x"
          type="number"
          domain={X_DOMAIN}
          allowDataOverflow
          ticks={xTicks}
          interval={0}
          height={10}
          tickSize={0}
          tickMargin={0}
          tickLine={false}
          axisLine={axisLine}
          tick={TopTick}
        />
        <YAxis
          yAxisId="l"
          orientation="left"
          dataKey="y"
          type="number"
          domain={Y_DOMAIN}
          allowDataOverflow
          ticks={yTicks}
          interval={0}
          width={100}
          tickSize={0}
          tickMargin={0}
          tickLine={false}
          axisLine={axisLine}
          tick={LeftTick}
        />
        <YAxis
          yAxisId="r"
          orientation="right"
          dataKey="y"
          type="number"
          domain={Y_DOMAIN}
          allowDataOverflow
          ticks={yTicks}
          interval={0}
          width={10}
          tickSize={0}
          tickMargin={0}
          tickLine={false}
          axisLine={axisLine}
          tick={RightTick}
        />
        {datasets.map((d, i) => (
          <Scatter
            key={seriesNames[i]}
            name={seriesNames[i]}
            data={d}
            dataKey="y"
            xAxisId="b"
            yAxisId="l"
            fill={seriesColors[i]}
            shape={makeSquare(seriesColors[i])}
            isAnimationActive={false}
          />
        ))}
        <Legend
          layout="vertical"
          align="center"
          verticalAlign="middle"
          content={() => <LegendBox />}
          wrapperStyle={{ position: "absolute", left: 1420, top: 180, width: 380, height: 180 }}
        />
      </ScatterChart>
      <svg
        width={1800}
        height={1009}
        style={{ position: "absolute", left: 0, top: 0, pointerEvents: "none" }}
      >
        <text x={822} y={995} textAnchor="middle" fontSize={57} fontFamily={FONT} fill="#000">
          TIGR case
        </text>
        <text transform="translate(63, 534) rotate(-90)" fontFamily={FONT} fill="#000">
          <tspan fontSize={57}>X</tspan>
          <tspan fontSize={36} dy={24}>CO</tspan>
        </text>
      </svg>
    </div>
  );
}
